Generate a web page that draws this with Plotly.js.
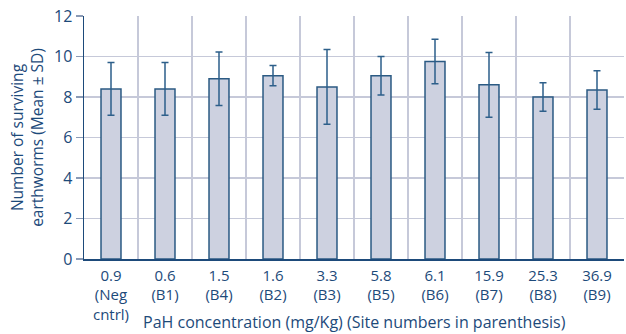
<!DOCTYPE html>
<html><head><meta charset="utf-8">
<script src="https://cdn.plot.ly/plotly-3.0.1.min.js"></script>
<style>html,body{margin:0;padding:0;background:#fff;}#chart{width:626px;height:334px;}</style>
</head><body><div id="chart"></div>
<script>
const concentrations = ["0.9", "0.6", "1.5", "1.6", "3.3", "5.8", "6.1", "15.9", "25.3", "36.9"];
const siteLabels = ["(Neg<br>cntrl)", "(B1)", "(B4)", "(B2)", "(B3)", "(B5)", "(B6)", "(B7)", "(B8)", "(B9)"];
const meanSurvivors = [8.4, 8.4, 8.9, 9.05, 8.5, 9.05, 9.75, 8.6, 8.0, 8.35];
const sdSurvivors = [1.3, 1.3, 1.32, 0.5, 1.85, 0.95, 1.1, 1.6, 0.7, 0.95];
const xTitle = "PaH concentration (mg/Kg) (Site numbers in parenthesis)";
const yTitle = "Number of surviving<br>earthworms (Mean ± SD)";

const tickLabels = concentrations.map((c, i) => c + "<br>" + siteLabels[i]);

const textColor = "#1d4a7a";
const fontFam = "'Open Sans', 'Noto Sans', sans-serif";

Plotly.newPlot("chart", [{
  type: "bar",
  x: tickLabels,
  y: meanSurvivors,
  marker: {color: "#cdd1e0", line: {color: "#2b5a83", width: 1.5}},
  error_y: {type: "data", array: sdSurvivors, visible: true, color: "#2d5f8a", thickness: 1.5, width: 3.5},
  hoverinfo: "none"
}], {
  width: 626, height: 334,
  margin: {l: 84, r: 2, t: 16, b: 75},
  paper_bgcolor: "#fff", plot_bgcolor: "#fff",
  bargap: 0.63,
  showlegend: false,
  font: {family: fontFam, size: 16, color: textColor},
  annotations: [{
    x: 0.5, xref: "paper", y: 0, yref: "paper",
    xanchor: "center", yanchor: "middle", yshift: -63,
    text: xTitle, showarrow: false, borderpad: 0,
    font: {family: fontFam, size: 16, color: textColor}
  }],
  xaxis: {
    type: "category",
    tickson: "boundaries",
    showgrid: true, gridcolor: "#c6c9d9", gridwidth: 1.5,
    ticks: "",
    ticklabelstandoff: 2,
    showline: true, linecolor: "#1d4a7a", linewidth: 1.5,
    tickfont: {size: 15, color: textColor},
    automargin: false
  },
  yaxis: {
    range: [0, 12],
    dtick: 2,
    showgrid: true, gridcolor: "#c6c9d9", gridwidth: 1.5,
    zeroline: false,
    showline: true, linecolor: "#1d4a7a", linewidth: 1.5,
    ticks: "outside", ticklen: 7, tickwidth: 1.5, tickcolor: "#8a9ab5",
    tickfont: {size: 16, color: textColor},
    title: {text: yTitle, font: {size: 15.5, color: textColor}, standoff: 6},
    automargin: false
  }
}, {displayModeBar: false, staticPlot: true});
</script></body></html>
